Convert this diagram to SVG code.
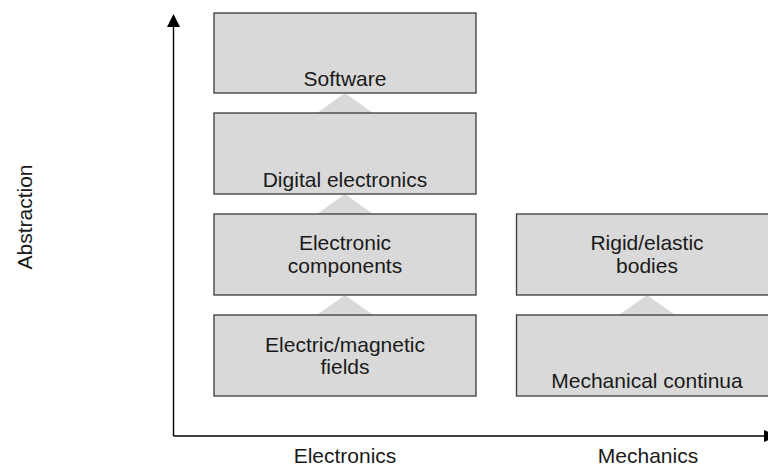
<svg xmlns="http://www.w3.org/2000/svg" width="768" height="467" viewBox="0 0 768 467">
<style>
.box{fill:#d9d9d9;stroke:#3a3a3a;stroke-width:1.3}
.tri{fill:#d9d9d9;stroke:none}
.t{font-family:"Liberation Sans",Arial,sans-serif;font-size:21px;fill:#1a1a1a;text-anchor:middle}
.ax{stroke:#000;stroke-width:1.4;fill:none}
</style>
<rect width="768" height="467" fill="#fff"/>
<g id="connectors">
<polygon class="tri" points="345,93 317,113 373,113"/>
<polygon class="tri" points="345,194 317,214 373,214"/>
<polygon class="tri" points="345,295 317,315 373,315"/>
<polygon class="tri" points="647,295 619,315 675,315"/>
<path class="ax" d="M173.5,436 L173.5,26"/>
<path d="M167,27 L173.5,14 L180,27 Z" fill="#000"/>
<path class="ax" d="M173.5,436 L765,436"/>
<path d="M764,430 L777,436 L764,442 Z" fill="#000"/>
</g>
<g id="software">
<rect class="box" x="214" y="13" width="262" height="80"/>
<text class="t" x="345" y="86">Software</text>
</g>
<g id="digital">
<rect class="box" x="214" y="113" width="262" height="81"/>
<text class="t" x="345" y="187">Digital electronics</text>
</g>
<g id="components">
<rect class="box" x="214" y="214" width="262" height="81"/>
<text class="t" x="345" y="250">Electronic</text>
<text class="t" x="345" y="273">components</text>
</g>
<g id="fields">
<rect class="box" x="214" y="315" width="262" height="81"/>
<text class="t" x="345" y="352">Electric/magnetic</text>
<text class="t" x="345" y="374">fields</text>
</g>
<g id="rigid">
<rect class="box" x="516.5" y="214" width="262" height="81"/>
<text class="t" x="647" y="250">Rigid/elastic</text>
<text class="t" x="647" y="273">bodies</text>
</g>
<g id="continua">
<rect class="box" x="516.5" y="315" width="262" height="81"/>
<text class="t" x="647" y="388">Mechanical continua</text>
</g>
<g id="labels">
<text class="t" x="345" y="463">Electronics</text>
<text class="t" x="648" y="463">Mechanics</text>
<text class="t" transform="translate(32,217) rotate(-90)">Abstraction</text>
</g>
</svg>
